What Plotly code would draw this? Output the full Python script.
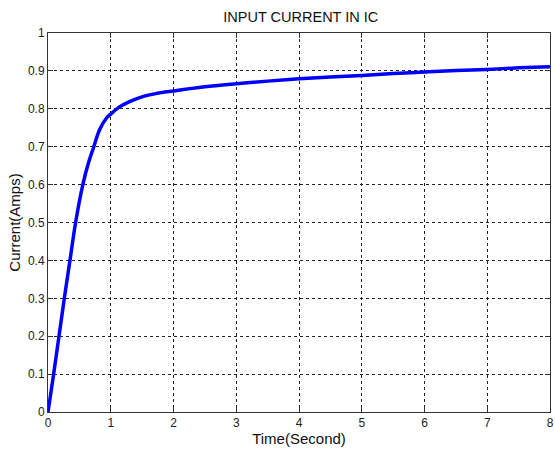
import plotly.graph_objects as go

time_s = [0, 0.09, 0.175, 0.26, 0.35, 0.44, 0.555, 0.65, 0.73, 0.82, 0.93, 1.0, 1.14, 1.30, 1.51, 1.72, 2.0, 2.5, 3.0, 3.5, 4.0, 4.5, 5.0, 5.5, 6.0, 6.5, 7.0, 7.5, 8.0]
current_a = [0, 0.1, 0.2, 0.3, 0.4, 0.5, 0.6, 0.66, 0.70, 0.744, 0.775, 0.786, 0.805, 0.819, 0.832, 0.840, 0.847, 0.858, 0.866, 0.873, 0.879, 0.884, 0.888, 0.893, 0.897, 0.901, 0.904, 0.908, 0.911]

x_ticks = [0, 1, 2, 3, 4, 5, 6, 7, 8]
y_ticks = [0, 0.1, 0.2, 0.3, 0.4, 0.5, 0.6, 0.7, 0.8, 0.9, 1]
y_tick_text = ["0", "0.1", "0.2", "0.3", "0.4", "0.5", "0.6", "0.7", "0.8", "0.9", "1"]

fig = go.Figure()
fig.add_trace(go.Scatter(
    x=time_s, y=current_a, mode="lines",
    line=dict(color="rgb(0,0,255)", width=3.5, shape="spline", smoothing=1.0),
    showlegend=False,
))

font = "Liberation Sans, Arial, sans-serif"
axis_common = dict(
    showline=True, linecolor="#333333", linewidth=1, mirror="ticks",
    ticks="inside", ticklen=5, tickcolor="#333333",
    showgrid=True, gridcolor="#222222", gridwidth=1, griddash="3px,3px",
    zeroline=False, ticklabeloverflow="allow",
    tickfont=dict(family=font, size=12, color="#222222"),
)

fig.update_layout(
    width=555, height=452,
    margin=dict(l=48, r=1, t=33, b=40),
    paper_bgcolor="white", plot_bgcolor="white",
    title=dict(text="INPUT CURRENT IN IC", x=0.542, xanchor="center", y=0.962, yanchor="middle",
               font=dict(family=font, size=14.5, color="#111111")),
    xaxis=dict(range=[0, 8], tickvals=x_ticks, ticktext=[str(v) for v in x_ticks],
               title=dict(text="Time(Second)", font=dict(family=font, size=15, color="#111111"), standoff=3),
               **axis_common),
    yaxis=dict(range=[0, 1], tickvals=y_ticks, ticktext=y_tick_text,
               title=dict(text="Current(Amps)", font=dict(family=font, size=15, color="#111111"), standoff=3),
               **axis_common),
)

fig.write_html("out.html")
